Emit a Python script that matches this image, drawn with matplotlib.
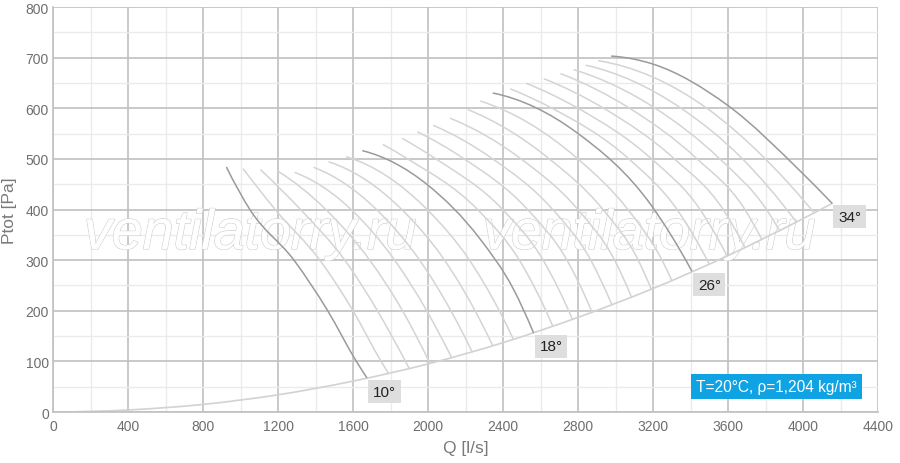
import matplotlib
matplotlib.use("Agg")
import matplotlib.pyplot as plt
import matplotlib.patheffects as pe
from matplotlib.path import Path
from matplotlib.patches import PathPatch
import numpy as np

plt.rcParams['font.family'] = ['Liberation Sans', 'DejaVu Sans']

# blade angles, one curve each
angles = list(range(10, 35))
dark_angles = [10, 18, 26, 34]

# points: Q [l/s], Ptot [Pa]
curve_q = [
    [926, 1050, 1285, 1465, 1618, 1673],
    [1015, 1185, 1423, 1600, 1750, 1790],
    [1108, 1320, 1556, 1730, 1880, 1900],
    [1202, 1455, 1689, 1864, 2010],
    [1291, 1590, 1822, 1993, 2125],
    [1392, 1725, 1955, 2122, 2235],
    [1472, 1860, 2088, 2251, 2345],
    [1566, 1995, 2221, 2380, 2455],
    [1652, 1993, 2277, 2455, 2562],
    [1762, 1891, 2264, 2487, 2665],
    [1865, 2042, 2398, 2614, 2770],
    [1945, 2193, 2531, 2741, 2875],
    [2030, 2345, 2665, 2868, 2980],
    [2120, 2496, 2799, 2995, 3085],
    [2215, 2647, 2933, 3121, 3190],
    [2281, 2799, 3066, 3248, 3300],
    [2348, 2793, 3193, 3406],
    [2441, 2662, 3071, 3328, 3500],
    [2526, 2800, 3192, 3451, 3595],
    [2620, 2937, 3314, 3574, 3690],
    [2709, 3075, 3435, 3690, 3780],
    [2779, 3212, 3556, 3805, 3875],
    [2843, 3350, 3677, 3965],
    [2909, 3487, 3799, 4060],
    [2979, 3202, 3601, 3993, 4153],
]
curve_p = [
    [483, 400, 300, 200, 100, 68],
    [480, 400, 300, 200, 100, 76],
    [478, 400, 300, 200, 100, 86],
    [475, 400, 300, 200, 96],
    [473, 400, 300, 200, 108],
    [483, 400, 300, 200, 119],
    [494, 400, 300, 200, 131],
    [504, 400, 300, 200, 144],
    [516, 450, 342, 243, 157],
    [528, 500, 400, 300, 170],
    [540, 500, 400, 300, 183],
    [553, 500, 400, 300, 197],
    [566, 500, 400, 300, 212],
    [580, 500, 400, 300, 227],
    [597, 500, 400, 300, 243],
    [614, 500, 400, 300, 260],
    [630, 552, 407, 279],
    [638, 600, 500, 400, 292],
    [649, 600, 500, 400, 308],
    [658, 600, 500, 400, 325],
    [668, 600, 500, 400, 341],
    [676, 600, 500, 400, 358],
    [685, 600, 500, 375],
    [694, 600, 500, 393],
    [703, 687, 605, 473, 413],
]

# system (duct) curve
sys_q = [0, 400, 800, 1200, 1600, 2000, 2400, 2800, 3200, 3600, 4000, 4160]
sys_p = [0, 4, 15, 34, 61, 95, 137, 187, 244, 309, 382, 413]

x_ticks = list(range(0, 4401, 400))
y_ticks = list(range(0, 801, 100))


def smooth_path(q, p):
    # cubic Bezier segments through the read points, slopes dP/dQ
    x = np.asarray(q, float)
    y = np.asarray(p, float)
    h = np.diff(x)
    d = np.diff(y) / h
    m = np.zeros_like(x)
    if len(x) > 2:
        m[1:-1] = (h[1:] * d[:-1] + h[:-1] * d[1:]) / (h[:-1] + h[1:])
        m[0] = ((2 * h[0] + h[1]) * d[0] - h[0] * d[1]) / (h[0] + h[1])
        m[-1] = ((2 * h[-1] + h[-2]) * d[-1] - h[-1] * d[-2]) / (h[-1] + h[-2])
        for k, dk in [(0, d[0]), (-1, d[-1])]:
            if np.sign(m[k]) != np.sign(dk):
                m[k] = 0.0
    else:
        m[:] = d[0]
    verts = [(x[0], y[0])]
    codes = [Path.MOVETO]
    for i in range(len(x) - 1):
        t = h[i] / 3
        verts += [(x[i] + t, y[i] + m[i] * t),
                  (x[i + 1] - t, y[i + 1] - m[i + 1] * t),
                  (x[i + 1], y[i + 1])]
        codes += [Path.CURVE4] * 3
    return Path(verts, codes)


fig = plt.figure(figsize=(9, 4.64), dpi=100)
ax = fig.add_axes([0.0589, 0.1099, 0.9167, 0.8728])
ax.set_xlim(0, 4400)
ax.set_ylim(0, 800)
ax.set_xticks(x_ticks)
ax.set_yticks(y_ticks)
ax.set_xticks(range(200, 4400, 400), minor=True)
ax.set_yticks(range(50, 800, 100), minor=True)
ax.grid(which='major', color='#c2c2c2', lw=1.25, zorder=0)
ax.grid(which='minor', color='#ebebeb', lw=1.0, zorder=0)
ax.set_axisbelow(True)
for s in ['top', 'right']:
    ax.spines[s].set_visible(False)
for s in ['left', 'bottom']:
    ax.spines[s].set_color('#c2c2c2')
    ax.spines[s].set_linewidth(1.25)
ax.tick_params(which='both', length=0, labelsize=10, labelcolor='#6e6e6e')
ax.tick_params(axis='y', pad=3)
ax.tick_params(axis='x', pad=5)
ax.set_xlabel('Q [l/s]', fontsize=12.5, color='#7a7a7a', labelpad=5)
ax.set_ylabel('Ptot [Pa]', fontsize=12.5, color='#7a7a7a', labelpad=6)

# watermark
for xq in [1051, 3179]:
    ax.text(xq, 350, 'ventilatorry.ru', fontsize=40, style='italic',
            ha='center', va='center', color='white', zorder=1.5,
            path_effects=[pe.withStroke(linewidth=1.1, foreground='#d2d2d2'),
                          pe.Normal()])

ax.add_patch(PathPatch(smooth_path(sys_q, sys_p), fill=False,
                       ec='#d2d2d2', lw=1.2, zorder=2))

for a, q, p in zip(angles, curve_q, curve_p):
    dark = a in dark_angles
    ax.add_patch(PathPatch(smooth_path(q, p), fill=False,
                           ec='#9a9a9a' if dark else '#d4d4d4',
                           lw=1.1, zorder=4 if dark else 3,
                           capstyle='round'))
    if dark:
        ax.annotate(f'{a}°', (q[-1], p[-1]), xytext=(4.5, -5),
                    textcoords='offset points', ha='left', va='top',
                    fontsize=11, color='#222222', zorder=6,
                    bbox=dict(boxstyle='square,pad=0.3', fc='#dedede', ec='none'))

ax.text(0.877, 0.062, 'T=20°C, ρ=1,204 kg/m³', transform=ax.transAxes,
        ha='center', va='center', fontsize=11.2, color='white', zorder=6,
        bbox=dict(boxstyle='square,pad=0.32', fc='#10a3e4', ec='none'))

fig.savefig('out.png', dpi=100)
